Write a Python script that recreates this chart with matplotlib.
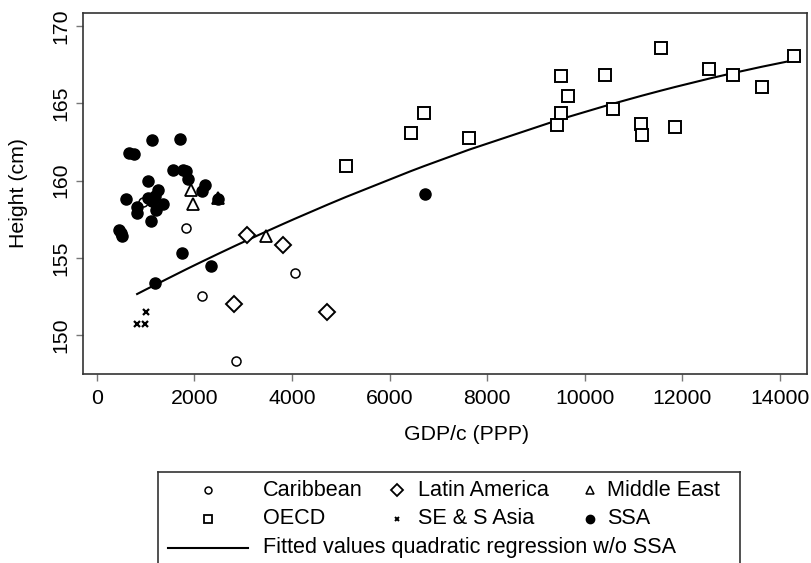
import numpy as np
import matplotlib.pyplot as plt

plt.rcParams['font.family'] = ['Liberation Sans', 'DejaVu Sans']

# GDP per capita (PPP) and average height (cm) by region
carib_x = [955, 1830, 4064, 2152, 2854]
carib_y = [158.6, 156.9, 154.0, 152.5, 148.3]

latam_x = [3086, 3811, 2814, 4725]
latam_y = [156.5, 155.8, 152.0, 151.5]

mideast_x = [1926, 1980, 3469, 2492]
mideast_y = [159.4, 158.5, 156.4, 158.9]

oecd_x = [5102, 6434, 6707, 7629, 9426, 9508, 9508, 9664, 10416, 10586,
          11148, 11180, 11557, 11850, 12553, 13045, 13627, 14295]
oecd_y = [160.96, 163.05, 164.35, 162.77, 163.6, 164.35, 166.76, 165.47, 166.86, 164.6,
          163.66, 162.94, 168.55, 163.48, 167.2, 166.8, 166.07, 168.08]

asia_x = [1010, 828, 990]
asia_y = [151.5, 150.7, 150.7]

ssa_x = [1137, 1707, 662, 770, 1557, 1775, 1830, 1877, 1045, 2219, 2152, 1263,
         2492, 594, 1058, 1195, 1127, 1352, 832, 820, 1209, 1106, 463, 492, 525,
         1741, 2342, 1195, 6727]
ssa_y = [162.6, 162.7, 161.8, 161.7, 160.7, 160.7, 160.6, 160.1, 160.0, 159.7, 159.3, 159.4,
         158.8, 158.8, 158.9, 159.0, 158.7, 158.5, 158.3, 157.9, 158.1, 157.4, 156.8, 156.6, 156.4,
         155.3, 154.5, 153.4, 159.1]

# quadratic regression without SSA
fit_x = np.array(carib_x + latam_x + mideast_x + oecd_x + asia_x, dtype=float)
fit_y = np.array(carib_y + latam_y + mideast_y + oecd_y + asia_y, dtype=float)
coef = np.polyfit(fit_x, fit_y, 2)
order = np.argsort(fit_x)
xs = fit_x[order]
ys = np.polyval(coef, xs)

fig = plt.figure(figsize=(8.12, 5.63), dpi=100)
ax = fig.add_axes([82.7 / 812, 1 - 374 / 563, (807 - 82.7) / 812, (374 - 13) / 563])

ax.plot(xs, ys, color='black', lw=1.5, zorder=2)
ax.plot(carib_x, carib_y, 'o', ms=6.5, mfc='white', mec='black', mew=1.1, zorder=3)
ax.plot(latam_x, latam_y, 'D', ms=8, mfc='white', mec='black', mew=1.4, zorder=3)
ax.plot(mideast_x, mideast_y, '^', ms=8.5, mfc='none', mec='black', mew=1.3, zorder=4)
ax.plot(oecd_x, oecd_y, 's', ms=8.3, mfc='white', mec='black', mew=1.4, zorder=3)
ax.plot(asia_x, asia_y, 'x', ms=4.5, color='black', mew=1.6, zorder=3)
ax.plot(ssa_x, ssa_y, 'o', ms=8, color='black', zorder=3)

ax.set_xlim(-287, 14555)
ax.set_ylim(147.48, 170.84)
ax.set_xticks(np.arange(0, 14001, 2000))
ax.set_yticks([150, 155, 160, 165, 170])

for s in ax.spines.values():
    s.set_color('#333333')
    s.set_linewidth(1.2)

fs = 15.3
ax.tick_params(direction='out', length=5, width=1, color='#777777',
               labelsize=fs, pad=6)
ax.tick_params(axis='y', labelrotation=90, pad=4)
for t in ax.get_yticklabels():
    t.set_va('center')

ax.set_xlabel('GDP/c (PPP)', fontsize=fs)
ax.set_ylabel('Height (cm)', fontsize=fs)
ax.xaxis.set_label_coords((467 - 82.7) / 724.3, -0.14)
ax.yaxis.set_label_coords(-0.076, 0.5)

# legend box below the plot, R-style layout
lg = fig.add_axes([158 / 812, 1 - 575 / 563, (740 - 158) / 812, (575 - 472) / 563])
lg.set_xlim(158, 740)
lg.set_ylim(575, 472)
lg.set_xticks([])
lg.set_yticks([])
for s in lg.spines.values():
    s.set_color('#333333')
    s.set_linewidth(1.2)

lfs = 15.6
rows = [490, 519, 548]
lg.plot([208], [rows[0]], 'o', ms=5, mfc='white', mec='black', mew=1.1)
lg.text(263, rows[0], 'Caribbean', fontsize=lfs, va='center')
lg.plot([397], [rows[0]], 'D', ms=6, mfc='white', mec='black', mew=1.3)
lg.text(418, rows[0], 'Latin America', fontsize=lfs, va='center')
lg.plot([590], [rows[0]], '^', ms=6, mfc='white', mec='black', mew=1.1)
lg.text(607, rows[0], 'Middle East', fontsize=lfs, va='center')

lg.plot([208], [rows[1]], 's', ms=6, mfc='white', mec='black', mew=1.3)
lg.text(263, rows[1], 'OECD', fontsize=lfs, va='center')
lg.plot([397], [rows[1]], 'x', ms=3.5, color='black', mew=1.4)
lg.text(418, rows[1], 'SE & S Asia', fontsize=lfs, va='center')
lg.plot([590], [rows[1]], 'o', ms=6, color='black')
lg.text(607, rows[1], 'SSA', fontsize=lfs, va='center')

lg.plot([168, 248], [rows[2], rows[2]], color='black', lw=1.5)
lg.text(263, rows[2], 'Fitted values quadratic regression w/o SSA', fontsize=lfs, va='center')

fig.savefig('out.png', dpi=100)
